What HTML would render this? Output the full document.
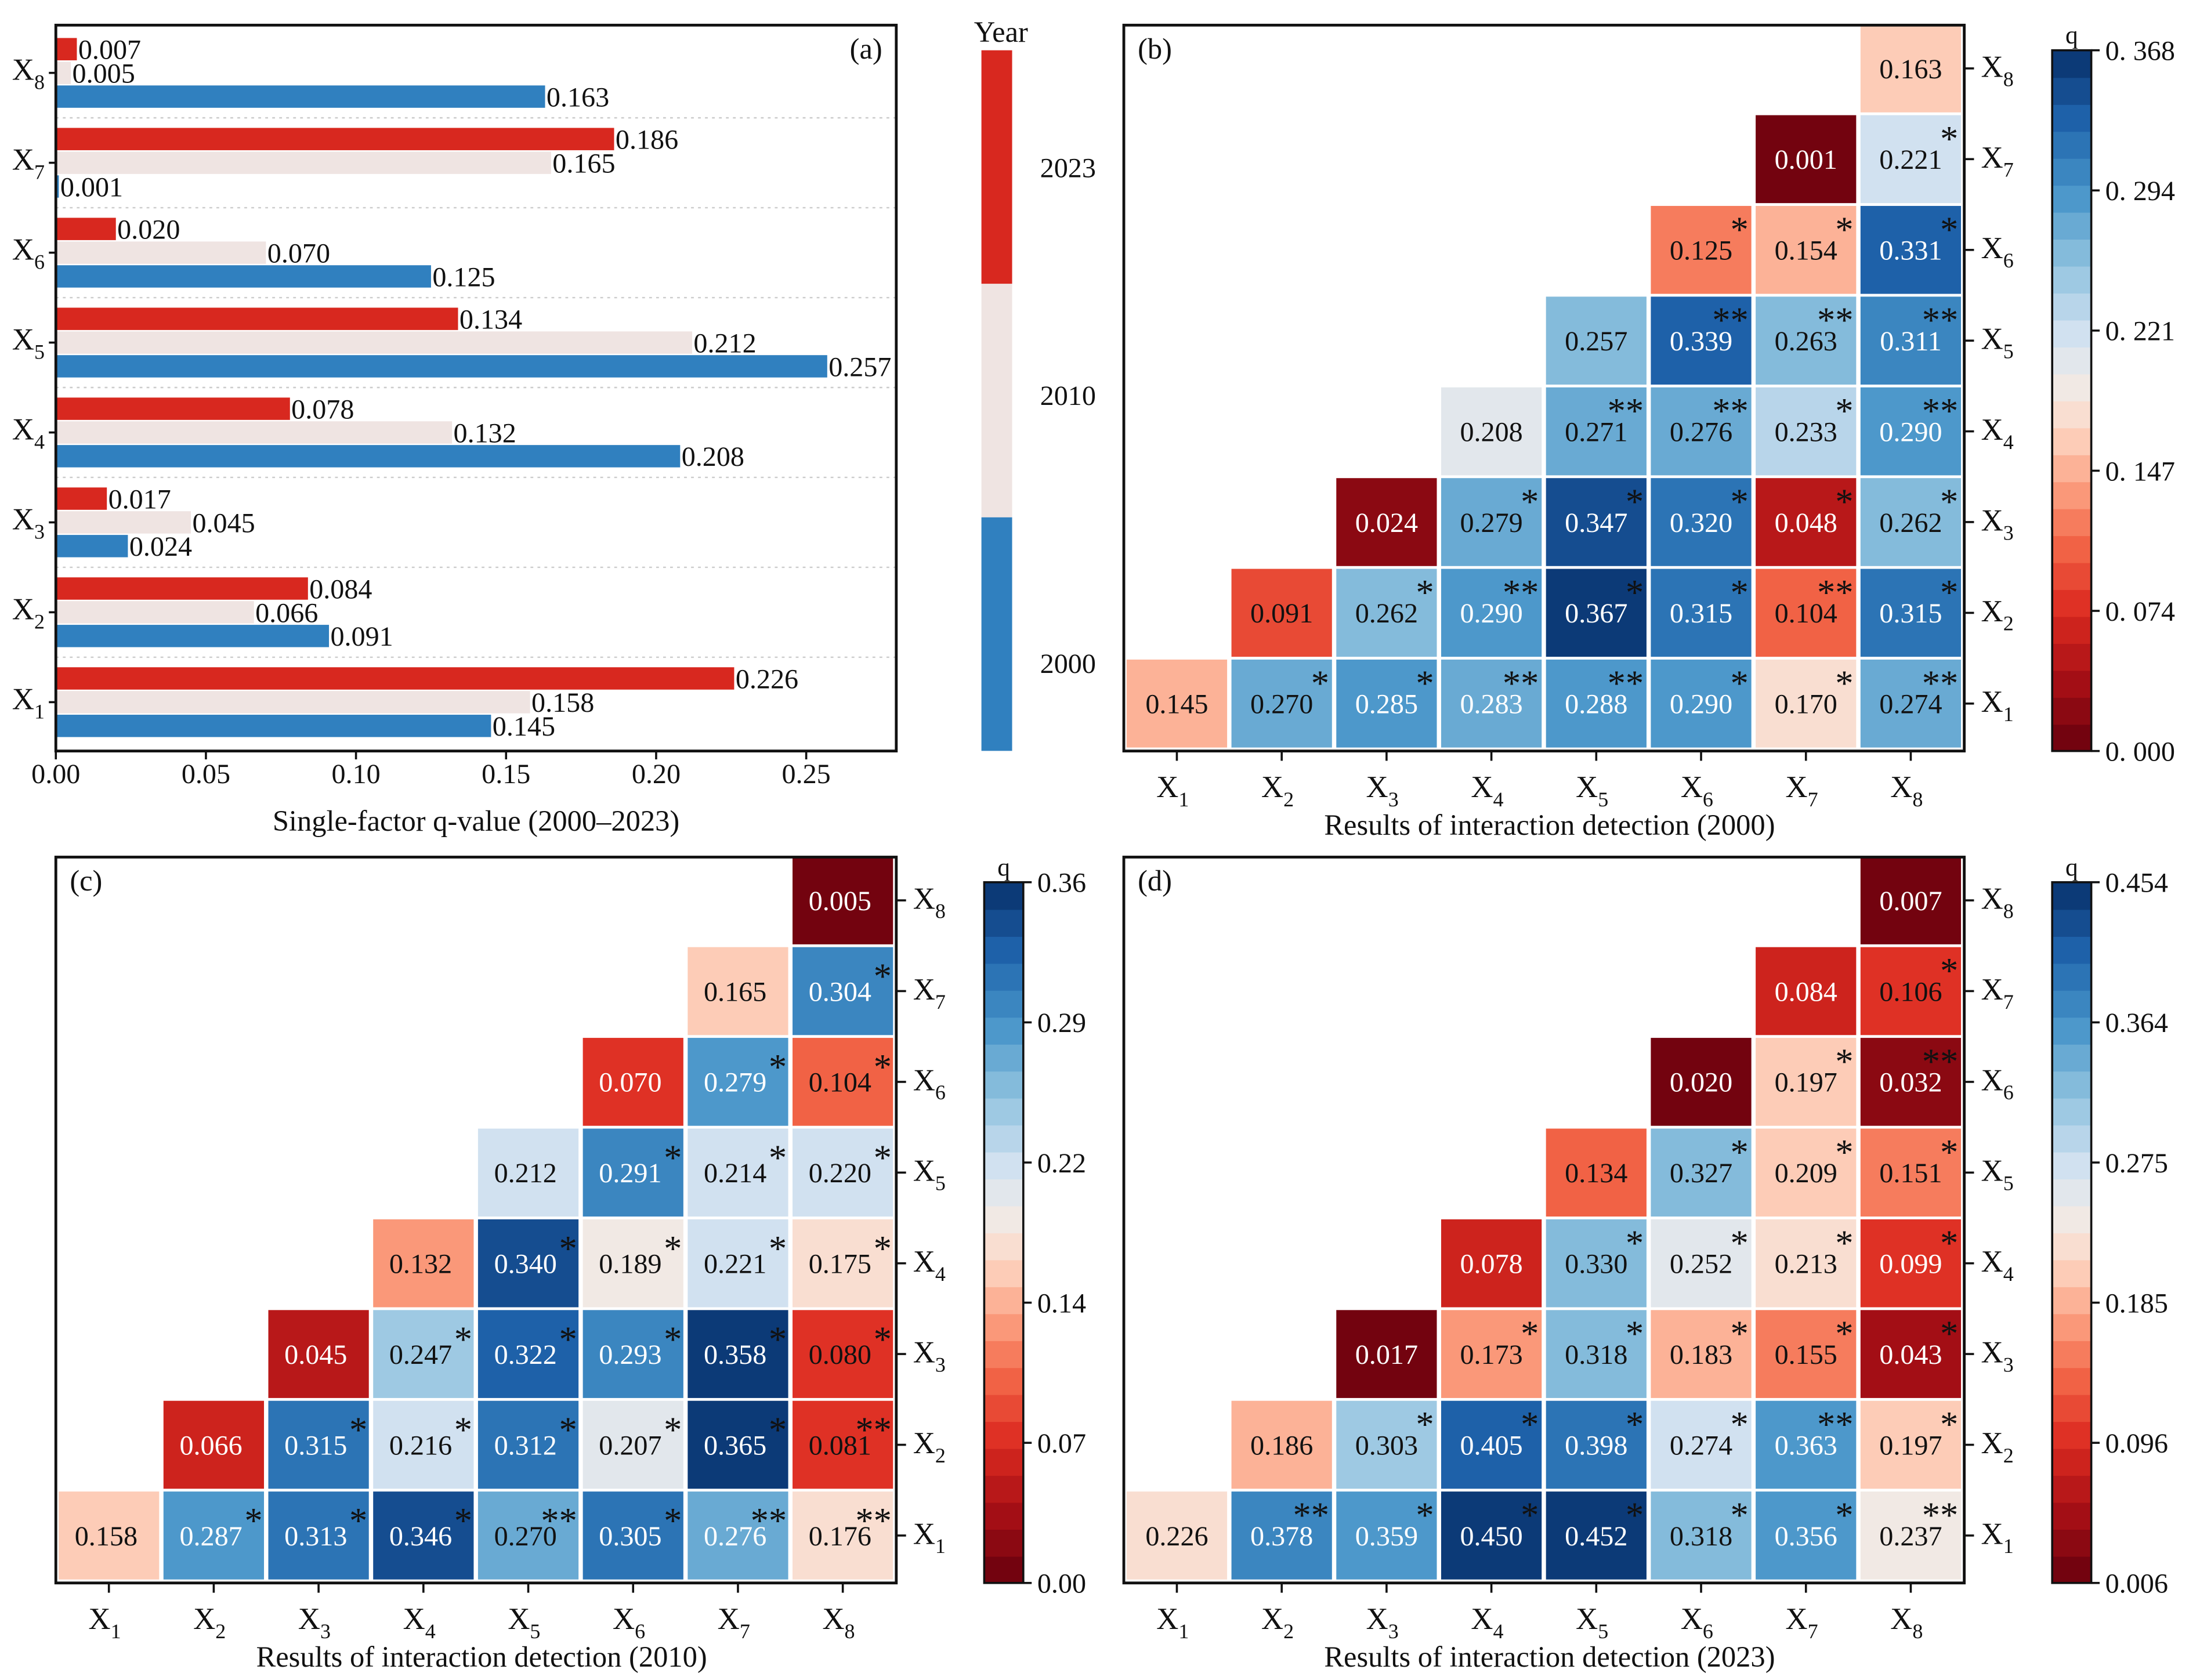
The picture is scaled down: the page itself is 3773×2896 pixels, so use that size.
<!DOCTYPE html>
<html><head><meta charset="utf-8"><style>
html,body{margin:0;padding:0;background:#fff;}
svg{display:block;font-family:"Liberation Serif","DejaVu Serif",serif;}
</style></head><body>
<svg id="fig" xmlns="http://www.w3.org/2000/svg" width="3773" height="2896" viewBox="0 0 1568 1203.5">
<rect x="0" y="0" width="1568" height="1203.5" fill="#fff"/>
<g id="pa"></g>
<g id="pb"></g>
<g id="pc"></g>
<g id="pd"></g>
</svg>
<script>
// ---- Panel (a) data ----
const factors = ["X1","X2","X3","X4","X5","X6","X7","X8"];
const q2023 = [0.226,0.084,0.017,0.078,0.134,0.020,0.186,0.007];
const q2010 = [0.158,0.066,0.045,0.132,0.212,0.070,0.165,0.005];
const q2000 = [0.145,0.091,0.024,0.208,0.257,0.125,0.001,0.163];
const xTicksA = [0.00,0.05,0.10,0.15,0.20,0.25];
const yearLabels = ["2023","2010","2000"];

// ---- Heatmap data (row Xr, columns r..8) ----
const m2000 = [
 [0.145,0.270,0.285,0.283,0.288,0.290,0.170,0.274],
 [0.091,0.262,0.290,0.367,0.315,0.104,0.315],
 [0.024,0.279,0.347,0.320,0.048,0.262],
 [0.208,0.271,0.276,0.233,0.290],
 [0.257,0.339,0.263,0.311],
 [0.125,0.154,0.331],
 [0.001,0.221],
 [0.163]];
const s2000 = [
 ["","*","*","**","**","*","*","**"],
 ["","*","**","*","*","**","*"],
 ["","*","*","*","*","*"],
 ["","**","**","*","**"],
 ["","**","**","**"],
 ["*","*","*"],
 ["","*"],
 [""]];
const m2010 = [
 [0.158,0.287,0.313,0.346,0.270,0.305,0.276,0.176],
 [0.066,0.315,0.216,0.312,0.207,0.365,0.081],
 [0.045,0.247,0.322,0.293,0.358,0.080],
 [0.132,0.340,0.189,0.221,0.175],
 [0.212,0.291,0.214,0.220],
 [0.070,0.279,0.104],
 [0.165,0.304],
 [0.005]];
const s2010 = [
 ["","*","*","*","**","*","**","**"],
 ["","*","*","*","*","*","**"],
 ["","*","*","*","*","*"],
 ["","*","*","*","*"],
 ["","*","*","*"],
 ["","*","*"],
 ["","*"],
 [""]];
const m2023 = [
 [0.226,0.378,0.359,0.450,0.452,0.318,0.356,0.237],
 [0.186,0.303,0.405,0.398,0.274,0.363,0.197],
 [0.017,0.173,0.318,0.183,0.155,0.043],
 [0.078,0.330,0.252,0.213,0.099],
 [0.134,0.327,0.209,0.151],
 [0.020,0.197,0.032],
 [0.084,0.106],
 [0.007]];
const s2023 = [
 ["","**","*","*","*","*","*","**"],
 ["","*","*","*","*","**","*"],
 ["","*","*","*","*","*"],
 ["","*","*","*","*"],
 ["","*","*","*"],
 ["","*","**"],
 ["","*"],
 [""]];
const cbTicks2000 = ["0. 000","0. 074","0. 147","0. 221","0. 294","0. 368"];
const cbTicks2010 = ["0.00","0.07","0.14","0.22","0.29","0.36"];
const cbTicks2023 = ["0.006","0.096","0.185","0.275","0.364","0.454"];

const NS="http://www.w3.org/2000/svg";
function mk(tag, attrs, parent){const e=document.createElementNS(NS,tag);for(const k in attrs)e.setAttribute(k,attrs[k]);parent.appendChild(e);return e;}
function xlabel(parent,x,y,idx,anchor,size){
  const t=mk("text",{x:x,y:y,"text-anchor":anchor,"font-size":size,fill:"#111"},parent);
  t.appendChild(document.createTextNode("X"));
  const s=mk("tspan",{dy:size*0.3,"font-size":size*0.68},t);
  s.textContent=String(idx);
  return t;
}
const stops=[[0,"#67000d"],[0.1,"#a50f15"],[0.2,"#dc2a20"],[0.3,"#f4694a"],[0.38,"#fba283"],[0.46,"#fdd8c6"],[0.53,"#efecea"],[0.6,"#cfe0f0"],[0.7,"#8cc0de"],[0.8,"#4593c8"],[0.9,"#1f63ab"],[1,"#08306b"]];
function hex2(h){return [parseInt(h.slice(1,3),16),parseInt(h.slice(3,5),16),parseInt(h.slice(5,7),16)];}
function cmap(t){
  t=Math.max(0,Math.min(0.9999,t)); t=(Math.floor(t*26)+0.5)/26;
  for(let i=0;i<stops.length-1;i++){if(t<=stops[i+1][0]){const a=hex2(stops[i][1]),b=hex2(stops[i+1][1]);const f=(t-stops[i][0])/(stops[i+1][0]-stops[i][0]);return "rgb("+a.map((v,j)=>Math.round(v+(b[j]-v)*f)).join(",")+")";}}
  return stops[stops.length-1][1];
}

// ---- Panel (a) ----
(function(){
  const g=document.getElementById("pa");
  const L=40,R=642,T=18,B=538,xmax=0.28;
  const xs=v=>L+(v/xmax)*(R-L);
  const yc=i=>503-i*64.4;
  for(let i=0;i<7;i++){const l=mk("line",{x1:L,x2:R,y1:yc(i)-32.2,y2:yc(i)-32.2,stroke:"#ccc","stroke-width":1,"stroke-dasharray":"2,3"},g);}
  const series=[[q2023,"#d8281f",-17,"bar-2023"],[q2010,"#efe4e2",0,"bar-2010"],[q2000,"#3080bf",17,"bar-2000"]];
  factors.forEach((f,i)=>{
    series.forEach(s=>{
      const v=s[0][i],cy=yc(i)+s[2];
      const r=mk("rect",{x:L,y:cy-8,width:xs(v)-L,height:16,fill:s[1]},g);
      
      
      const t=mk("text",{x:xs(v)+1,y:cy+7,"font-size":20,fill:"#111"},g);
      
      
      t.textContent=v.toFixed(3);
    });
    mk("line",{x1:L-5,x2:L,y1:yc(i),y2:yc(i),stroke:"#111","stroke-width":1.5},g);
    const tl=xlabel(g,L-8,yc(i)+5,i+1,"end",22);
    
    
  });
  mk("rect",{x:L,y:T,width:R-L,height:B-T,fill:"none",stroke:"#111","stroke-width":2},g);
  xTicksA.forEach(v=>{
    mk("line",{x1:xs(v),x2:xs(v),y1:B,y2:B+6,stroke:"#111","stroke-width":1.5},g);
    const t=mk("text",{x:xs(v),y:561,"text-anchor":"middle","font-size":20,fill:"#111"},g);
    
    
    t.textContent=v.toFixed(2);
  });
  const xt=mk("text",{x:341,y:595,"text-anchor":"middle","font-size":21,fill:"#111"},g);
  
  xt.textContent="Single-factor q-value (2000\u20132023)";
  const pl=mk("text",{x:632,y:42,"text-anchor":"end","font-size":21,fill:"#111"},g);
  
  pl.textContent="(a)";
  const cols=["#d8281f","#efe4e2","#3080bf"];
  const lg=mk("g",{},g);
  cols.forEach((c,i)=>{
    mk("rect",{x:703,y:36+i*167.3,width:22,height:167.3,fill:c},lg);
    const t=mk("text",{x:765,y:[127,290,482][i],"text-anchor":"middle","font-size":20,fill:"#111"},lg);
    t.textContent=yearLabels[i];
  });
  const yt=mk("text",{x:717,y:30,"text-anchor":"middle","font-size":21,fill:"#111"},lg);
  yt.textContent="Year";
})();

// ---- Heatmaps ----
function heat(gid,M,S,ticks,vmin,vmax,ox,oy,label,title,starStyle){
  const g=document.getElementById(gid);
  const L=ox,R=ox+602,T=oy,B=oy+520;
  const cx=c=>L+38+c*75.1;
  const cy=r=>oy+486-r*65;
  M.forEach((row,r)=>{
    row.forEach((v,k)=>{
      const c=r+k;
      const t=(v-vmin)/(vmax-vmin);
      const rc=mk("rect",{x:cx(c)-36,y:cy(r)-31.5,width:72,height:63,fill:cmap(t)},g);
      
      
      const white=(t<0.22||t>0.76);
      const tx=mk("text",{x:(starStyle==="side"?cx(c)-2:cx(c)),y:cy(r)+7,"text-anchor":"middle","font-size":20,fill:white?"#fff":"#111"},g);
      
      
      tx.textContent=v.toFixed(3);
      const st=S[r][k];
      if(st){
        let a;
        if(starStyle==="side") a=mk("text",{x:cx(c)+35,y:cy(r)-2,"text-anchor":"end","font-size":26,fill:"#111"},g);
        else a=mk("text",{x:cx(c)+34,y:cy(r)-6,"text-anchor":"end","font-size":26,fill:"#111"},g);
        
        
        a.textContent=st;
      }
    });
  });
  mk("rect",{x:L,y:T,width:R-L,height:B-T,fill:"none",stroke:"#111","stroke-width":2},g);
  for(let i=0;i<8;i++){
    mk("line",{x1:cx(i),x2:cx(i),y1:B,y2:B+7,stroke:"#111","stroke-width":1.5},g);
    const xl=xlabel(g,cx(i)-3,B+33,i+1,"middle",22);
    
    mk("line",{x1:R,x2:R+7,y1:cy(i),y2:cy(i),stroke:"#111","stroke-width":1.5},g);
    const yl=xlabel(g,R+12,cy(i)+6,i+1,"start",22);
    
  }
  const tt=mk("text",{x:L+305,y:B+60,"text-anchor":"middle","font-size":21,fill:"#111"},g);
  
  tt.textContent=title;
  const pl=mk("text",{x:L+10,y:T+24,"font-size":21,fill:"#111"},g);
  
  pl.textContent=label;
  const cb=mk("g",{},g);
  const bx=ox+665,bw=28,bt=oy+18,bb=oy+520,n=26;
  for(let i=0;i<n;i++){
    const h=(bb-bt)/n;
    mk("rect",{x:bx,y:bb-(i+1)*h,width:bw,height:h+0.5,fill:cmap((i+0.5)/n)},cb);
  }
  mk("rect",{x:bx,y:bt,width:bw,height:bb-bt,fill:"none",stroke:"#111","stroke-width":1.5},cb);
  ticks.forEach((s,i)=>{
    const y=bb-i*(bb-bt)/5;
    mk("line",{x1:bx+bw,x2:bx+bw+6,y1:y,y2:y,stroke:"#111","stroke-width":1.5},cb);
    const t=mk("text",{x:bx+bw+10,y:y+7,"font-size":20,fill:"#111"},cb);
    t.textContent=s;
  });
  const q=mk("text",{x:bx+14,y:bt-5,"text-anchor":"middle","font-size":18,fill:"#111"},cb);
  q.textContent="q";
}
heat("pb",m2000,s2000,cbTicks2000,0,0.368,805,18,"(b)","Results of interaction detection (2000)","top");
heat("pc",m2010,s2010,cbTicks2010,0,0.36,40,614,"(c)","Results of interaction detection (2010)","side");
heat("pd",m2023,s2023,cbTicks2023,0.006,0.454,805,614,"(d)","Results of interaction detection (2023)","top");
</script>
</body></html>
